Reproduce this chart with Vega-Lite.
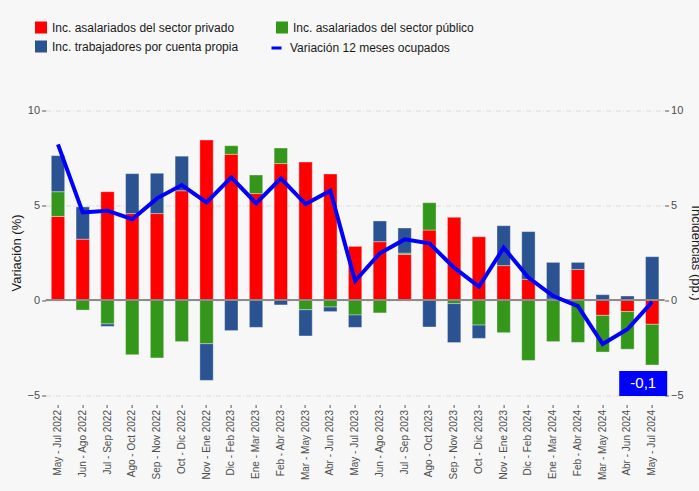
{
  "$schema": "https://vega.github.io/schema/vega-lite/v6.json",
  "autosize": {"type": "none"},
  "width": 619,
  "height": 304,
  "padding": {"left": 45.6, "top": 100.5, "right": 34.4, "bottom": 86.5},
  "background": "#f7f7f7",
  "config": {
    "font": "Liberation Sans",
    "view": {"stroke": null},
    "axis": {"labelFont": "Liberation Sans", "titleFont": "Liberation Sans"}
  },
  "datasets": {
    "barras": [
      {"periodo": "May - Jul 2022", "componente": "Inc. asalariados del sector privado", "valor": 4.4},
      {"periodo": "May - Jul 2022", "componente": "Inc. asalariados del sector público", "valor": 1.3},
      {"periodo": "May - Jul 2022", "componente": "Inc. trabajadores por cuenta propia", "valor": 1.9},
      {"periodo": "Jun - Ago 2022", "componente": "Inc. asalariados del sector privado", "valor": 3.2},
      {"periodo": "Jun - Ago 2022", "componente": "Inc. asalariados del sector público", "valor": -0.53},
      {"periodo": "Jun - Ago 2022", "componente": "Inc. trabajadores por cuenta propia", "valor": 1.7},
      {"periodo": "Jul - Sep 2022", "componente": "Inc. asalariados del sector privado", "valor": 5.7},
      {"periodo": "Jul - Sep 2022", "componente": "Inc. asalariados del sector público", "valor": -1.26},
      {"periodo": "Jul - Sep 2022", "componente": "Inc. trabajadores por cuenta propia", "valor": -0.13},
      {"periodo": "Ago - Oct 2022", "componente": "Inc. asalariados del sector privado", "valor": 4.55},
      {"periodo": "Ago - Oct 2022", "componente": "Inc. asalariados del sector público", "valor": -2.88},
      {"periodo": "Ago - Oct 2022", "componente": "Inc. trabajadores por cuenta propia", "valor": 2.1},
      {"periodo": "Sep - Nov 2022", "componente": "Inc. asalariados del sector privado", "valor": 4.55},
      {"periodo": "Sep - Nov 2022", "componente": "Inc. asalariados del sector público", "valor": -3.05},
      {"periodo": "Sep - Nov 2022", "componente": "Inc. trabajadores por cuenta propia", "valor": 2.12},
      {"periodo": "Oct - Dic 2022", "componente": "Inc. asalariados del sector privado", "valor": 5.75},
      {"periodo": "Oct - Dic 2022", "componente": "Inc. asalariados del sector público", "valor": -2.19},
      {"periodo": "Oct - Dic 2022", "componente": "Inc. trabajadores por cuenta propia", "valor": 1.82},
      {"periodo": "Nov - Ene 2022", "componente": "Inc. asalariados del sector privado", "valor": 8.42},
      {"periodo": "Nov - Ene 2022", "componente": "Inc. asalariados del sector público", "valor": -2.3},
      {"periodo": "Nov - Ene 2022", "componente": "Inc. trabajadores por cuenta propia", "valor": -1.93},
      {"periodo": "Dic - Feb 2023", "componente": "Inc. asalariados del sector privado", "valor": 7.67},
      {"periodo": "Dic - Feb 2023", "componente": "Inc. asalariados del sector público", "valor": 0.45},
      {"periodo": "Dic - Feb 2023", "componente": "Inc. trabajadores por cuenta propia", "valor": -1.61},
      {"periodo": "Ene - Mar 2023", "componente": "Inc. asalariados del sector privado", "valor": 5.6},
      {"periodo": "Ene - Mar 2023", "componente": "Inc. asalariados del sector público", "valor": 0.98},
      {"periodo": "Ene - Mar 2023", "componente": "Inc. trabajadores por cuenta propia", "valor": -1.44},
      {"periodo": "Feb - Abr 2023", "componente": "Inc. asalariados del sector privado", "valor": 7.18},
      {"periodo": "Feb - Abr 2023", "componente": "Inc. asalariados del sector público", "valor": 0.82},
      {"periodo": "Feb - Abr 2023", "componente": "Inc. trabajadores por cuenta propia", "valor": -0.26},
      {"periodo": "Mar - May 2023", "componente": "Inc. asalariados del sector privado", "valor": 7.26},
      {"periodo": "Mar - May 2023", "componente": "Inc. asalariados del sector público", "valor": -0.51},
      {"periodo": "Mar - May 2023", "componente": "Inc. trabajadores por cuenta propia", "valor": -1.38},
      {"periodo": "Abr - Jun 2023", "componente": "Inc. asalariados del sector privado", "valor": 6.63},
      {"periodo": "Abr - Jun 2023", "componente": "Inc. asalariados del sector público", "valor": -0.37},
      {"periodo": "Abr - Jun 2023", "componente": "Inc. trabajadores por cuenta propia", "valor": -0.24},
      {"periodo": "May - Jul 2023", "componente": "Inc. asalariados del sector privado", "valor": 2.82},
      {"periodo": "May - Jul 2023", "componente": "Inc. asalariados del sector público", "valor": -0.79},
      {"periodo": "May - Jul 2023", "componente": "Inc. trabajadores por cuenta propia", "valor": -0.65},
      {"periodo": "Jun - Ago 2023", "componente": "Inc. asalariados del sector privado", "valor": 3.07},
      {"periodo": "Jun - Ago 2023", "componente": "Inc. asalariados del sector público", "valor": -0.68},
      {"periodo": "Jun - Ago 2023", "componente": "Inc. trabajadores por cuenta propia", "valor": 1.09},
      {"periodo": "Jul - Sep 2023", "componente": "Inc. asalariados del sector privado", "valor": 2.4},
      {"periodo": "Jul - Sep 2023", "componente": "Inc. asalariados del sector público", "valor": 0.07},
      {"periodo": "Jul - Sep 2023", "componente": "Inc. trabajadores por cuenta propia", "valor": 1.32},
      {"periodo": "Ago - Oct 2023", "componente": "Inc. asalariados del sector privado", "valor": 3.68},
      {"periodo": "Ago - Oct 2023", "componente": "Inc. asalariados del sector público", "valor": 1.44},
      {"periodo": "Ago - Oct 2023", "componente": "Inc. trabajadores por cuenta propia", "valor": -1.42},
      {"periodo": "Sep - Nov 2023", "componente": "Inc. asalariados del sector privado", "valor": 4.35},
      {"periodo": "Sep - Nov 2023", "componente": "Inc. asalariados del sector público", "valor": -0.19},
      {"periodo": "Sep - Nov 2023", "componente": "Inc. trabajadores por cuenta propia", "valor": -2.05},
      {"periodo": "Oct - Dic 2023", "componente": "Inc. asalariados del sector privado", "valor": 3.33},
      {"periodo": "Oct - Dic 2023", "componente": "Inc. asalariados del sector público", "valor": -1.32},
      {"periodo": "Oct - Dic 2023", "componente": "Inc. trabajadores por cuenta propia", "valor": -0.7},
      {"periodo": "Nov - Ene 2023", "componente": "Inc. asalariados del sector privado", "valor": 1.81},
      {"periodo": "Nov - Ene 2023", "componente": "Inc. asalariados del sector público", "valor": -1.72},
      {"periodo": "Nov - Ene 2023", "componente": "Inc. trabajadores por cuenta propia", "valor": 2.1},
      {"periodo": "Dic - Feb 2024", "componente": "Inc. asalariados del sector privado", "valor": 1.09},
      {"periodo": "Dic - Feb 2024", "componente": "Inc. asalariados del sector público", "valor": -3.18},
      {"periodo": "Dic - Feb 2024", "componente": "Inc. trabajadores por cuenta propia", "valor": 2.51},
      {"periodo": "Ene - Mar 2024", "componente": "Inc. asalariados del sector privado", "valor": 0.05},
      {"periodo": "Ene - Mar 2024", "componente": "Inc. asalariados del sector público", "valor": -2.19},
      {"periodo": "Ene - Mar 2024", "componente": "Inc. trabajadores por cuenta propia", "valor": 1.93},
      {"periodo": "Feb - Abr 2024", "componente": "Inc. asalariados del sector privado", "valor": 1.61},
      {"periodo": "Feb - Abr 2024", "componente": "Inc. asalariados del sector público", "valor": -2.23},
      {"periodo": "Feb - Abr 2024", "componente": "Inc. trabajadores por cuenta propia", "valor": 0.37},
      {"periodo": "Mar - May 2024", "componente": "Inc. asalariados del sector privado", "valor": -0.81},
      {"periodo": "Mar - May 2024", "componente": "Inc. asalariados del sector público", "valor": -1.93},
      {"periodo": "Mar - May 2024", "componente": "Inc. trabajadores por cuenta propia", "valor": 0.28},
      {"periodo": "Abr - Jun 2024", "componente": "Inc. asalariados del sector privado", "valor": -0.61},
      {"periodo": "Abr - Jun 2024", "componente": "Inc. asalariados del sector público", "valor": -1.98},
      {"periodo": "Abr - Jun 2024", "componente": "Inc. trabajadores por cuenta propia", "valor": 0.21},
      {"periodo": "May - Jul 2024", "componente": "Inc. asalariados del sector privado", "valor": -1.28},
      {"periodo": "May - Jul 2024", "componente": "Inc. asalariados del sector público", "valor": -2.14},
      {"periodo": "May - Jul 2024", "componente": "Inc. trabajadores por cuenta propia", "valor": 2.28}
    ],
    "linea": [
      {"periodo": "May - Jul 2022", "variacion": 8.19},
      {"periodo": "Jun - Ago 2022", "variacion": 4.61},
      {"periodo": "Jul - Sep 2022", "variacion": 4.7},
      {"periodo": "Ago - Oct 2022", "variacion": 4.25},
      {"periodo": "Sep - Nov 2022", "variacion": 5.35},
      {"periodo": "Oct - Dic 2022", "variacion": 6.05},
      {"periodo": "Nov - Ene 2022", "variacion": 5.14},
      {"periodo": "Dic - Feb 2023", "variacion": 6.46},
      {"periodo": "Ene - Mar 2023", "variacion": 5.09},
      {"periodo": "Feb - Abr 2023", "variacion": 6.4},
      {"periodo": "Mar - May 2023", "variacion": 5.05},
      {"periodo": "Abr - Jun 2023", "variacion": 5.75},
      {"periodo": "May - Jul 2023", "variacion": 1.0},
      {"periodo": "Jun - Ago 2023", "variacion": 2.46},
      {"periodo": "Jul - Sep 2023", "variacion": 3.19},
      {"periodo": "Ago - Oct 2023", "variacion": 2.98},
      {"periodo": "Sep - Nov 2023", "variacion": 1.7},
      {"periodo": "Oct - Dic 2023", "variacion": 0.7},
      {"periodo": "Nov - Ene 2023", "variacion": 2.75},
      {"periodo": "Dic - Feb 2024", "variacion": 1.18},
      {"periodo": "Ene - Mar 2024", "variacion": 0.21},
      {"periodo": "Feb - Abr 2024", "variacion": -0.32},
      {"periodo": "Mar - May 2024", "variacion": -2.32},
      {"periodo": "Abr - Jun 2024", "variacion": -1.54},
      {"periodo": "May - Jul 2024", "variacion": -0.1}
    ],
    "etiqueta": [
      {"periodo": "May - Jul 2024", "texto": "-0,1"}
    ]
  },
  "resolve": {"scale": {"y": "shared", "x": "shared", "color": "independent"}, "axis": {"y": "independent"}, "legend": {"color": "independent"}},
  "layer": [
    {
      "data": {"name": "barras"},
      "mark": {"type": "bar", "stroke": "#ffffff", "strokeOpacity": 0.35, "strokeWidth": 1},
      "encoding": {
        "x": {
          "field": "periodo", "type": "nominal",
          "scale": {
            "domain": ["May - Jul 2022", "Jun - Ago 2022", "Jul - Sep 2022", "Ago - Oct 2022", "Sep - Nov 2022", "Oct - Dic 2022", "Nov - Ene 2022", "Dic - Feb 2023", "Ene - Mar 2023", "Feb - Abr 2023", "Mar - May 2023", "Abr - Jun 2023", "May - Jul 2023", "Jun - Ago 2023", "Jul - Sep 2023", "Ago - Oct 2023", "Sep - Nov 2023", "Oct - Dic 2023", "Nov - Ene 2023", "Dic - Feb 2024", "Ene - Mar 2024", "Feb - Abr 2024", "Mar - May 2024", "Abr - Jun 2024", "May - Jul 2024"],
            "paddingInner": 0.46, "paddingOuter": 0.23
          },
          "axis": {
            "title": null, "labelAngle": -90, "labelFontSize": 10, "labelColor": "#4d4d4d",
            "tickSize": 3, "tickColor": "#555555", "domain": false, "labelPadding": 2, "grid": false
          }
        },
        "y": {
          "field": "valor", "type": "quantitative", "stack": "zero",
          "scale": {"domain": [-5.5, 10.5], "nice": false, "zero": false},
          "axis": {
            "title": "Variación (%)", "titleFontSize": 13, "titleFontWeight": "normal", "titleColor": "#1a1a1a",
            "titlePadding": 4,
            "values": [-5, 0, 5, 10], "labelFontSize": 11, "labelColor": "#4d4d4d",
            "tickSize": 4, "tickColor": "#555555", "labelPadding": 2, "domain": false,
            "grid": true, "gridColor": "#dcdcdc", "gridDash": [5, 2, 1, 2], "gridWidth": 1
          }
        },
        "color": {
          "field": "componente", "type": "nominal",
          "scale": {
            "domain": ["Inc. asalariados del sector privado", "Inc. trabajadores por cuenta propia", "Inc. asalariados del sector público"],
            "range": ["#ff0000", "#2b5391", "#34961b"]
          },
          "legend": {
            "orient": "none", "legendX": -10.6, "legendY": -79, "columns": 2, "title": null,
            "symbolType": "square", "symbolSize": 144, "symbolStrokeWidth": 0, "symbolOpacity": 1, "labelLimit": 400,
            "labelFontSize": 12, "labelColor": "#1a1a1a", "labelFont": "Liberation Sans",
            "rowPadding": 7, "columnPadding": 37, "labelOffset": 5
          }
        },
        "order": {"field": "componente", "sort": "ascending"}
      }
    },
    {
      "data": {"values": [{"cero": 0}]},
      "mark": {"type": "rule", "color": "#8c8c8c", "strokeWidth": 2},
      "encoding": {
        "y": {"field": "cero", "type": "quantitative", "axis": null}
      }
    },
    {
      "data": {"name": "linea"},
      "mark": {"type": "line", "strokeWidth": 4},
      "encoding": {
        "x": {"field": "periodo", "type": "nominal"},
        "y": {
          "field": "variacion", "type": "quantitative",
          "axis": {
            "orient": "right", "title": "Incidencias (pp.)", "titleFontSize": 13, "titleFontWeight": "normal",
            "titleColor": "#1a1a1a", "titleAngle": 90, "titlePadding": 5,
            "values": [-5, 0, 5, 10], "labelFontSize": 11, "labelColor": "#4d4d4d",
            "tickSize": 4, "tickColor": "#555555", "labelPadding": 2, "domain": false, "grid": false
          }
        },
        "color": {
          "datum": "Variación 12 meses ocupados",
          "scale": {"domain": ["Variación 12 meses ocupados"], "range": ["#0000ff"]},
          "legend": {
            "orient": "none", "legendX": 224.4, "legendY": -59, "title": null,
            "symbolType": "stroke", "symbolSize": 100, "symbolStrokeWidth": 3, "labelLimit": 400,
            "labelFontSize": 12, "labelColor": "#1a1a1a", "labelFont": "Liberation Sans",
            "labelOffset": 7
          }
        }
      }
    },
    {
      "data": {"name": "etiqueta"},
      "mark": {"type": "point", "shape": "M-1.92,-1H1.92V1H-1.92Z", "size": 625, "filled": true, "color": "#0000ff", "opacity": 1, "xOffset": -9},
      "encoding": {
        "x": {"field": "periodo", "type": "nominal"},
        "y": {"datum": -4.39, "axis": null}
      }
    },
    {
      "data": {"name": "etiqueta"},
      "mark": {"type": "text", "color": "#ffffff", "fontSize": 15, "xOffset": -9, "align": "center", "baseline": "middle"},
      "encoding": {
        "x": {"field": "periodo", "type": "nominal"},
        "y": {"datum": -4.39, "axis": null},
        "text": {"field": "texto"}
      }
    }
  ]
}
